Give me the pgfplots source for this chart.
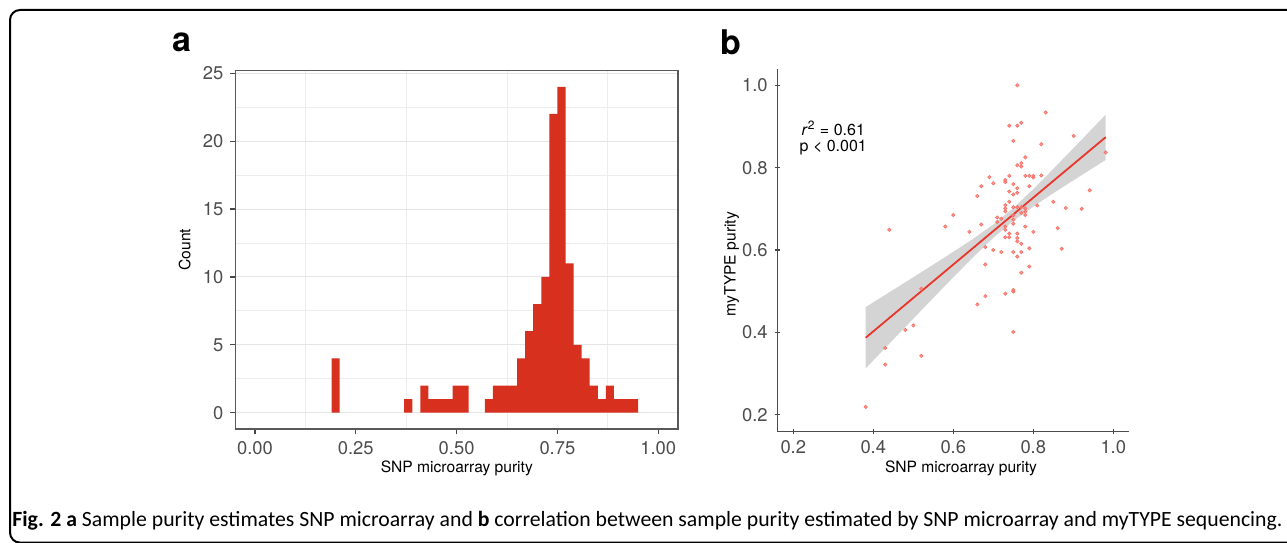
\documentclass[border=0pt]{standalone}
\usepackage{fontspec}
\setmainfont{TeX Gyre Heros}
\newfontfamily\capfont{Carlito}
\usepackage{pgfplots}
\pgfplotsset{compat=1.18}
\definecolor{histred}{HTML}{D7301F}
\definecolor{ptred}{HTML}{F8766D}
\definecolor{fitred}{HTML}{E8362B}
\definecolor{ticktext}{HTML}{4D4D4D}

\pgfplotsset{
  purity/.style={
    scale only axis,
    tick align=outside, tick pos=left,
    major tick length=2.6pt,
    tick style={black!72, line width=0.6pt},
    ticklabel style={font=\fontsize{9.2}{10}\selectfont, text=ticktext},
    label style={font=\fontsize{7.8}{9}\selectfont, text=black},
    /pgf/number format/assume math mode=true,
  }
}

\begin{document}
\begin{tikzpicture}
\useasboundingbox (0pt,0pt) rectangle (643.5pt,271pt);
\draw[line width=1pt, rounded corners=5pt] (5pt,-0.3pt) rectangle (700pt,266pt);

% panel a: histogram (bin width 0.02, bars at bin centres)
\begin{axis}[purity,
  at={(117.8pt,56.5pt)}, anchor=south west,
  width=221.2pt, height=179.25pt,
  xmin=-0.048, xmax=1.049, ymin=-1.2, ymax=25.2,
  xtick={0,0.25,0.5,0.75,1},
  x tick label style={/pgf/number format/.cd, fixed, fixed zerofill, precision=2, /tikz/.cd},
  ytick={0,5,10,15,20,25},
  minor xtick={0.125,0.375,0.625,0.875},
  minor ytick={2.5,7.5,12.5,17.5,22.5},
  minor tick length=0pt,
  xminorgrids, ymajorgrids, yminorgrids,
  major grid style={black!10, line width=0.5pt},
  minor grid style={black!7, line width=0.4pt},
  axis line style={black!65, line width=0.8pt},
  xlabel={SNP microarray purity}, ylabel={Count},
  xlabel style={at={(axis description cs:0.5,-0.109)}, anchor=center},
  ylabel style={at={(axis description cs:-0.115,0.5)}, anchor=center},
]
\addplot[ybar, bar width=0.0201, bar shift=0pt, fill=histred, draw=none] coordinates {
 (0.20,4) (0.38,1) (0.42,2) (0.44,1) (0.46,1) (0.48,1) (0.50,2) (0.52,2)
 (0.58,1) (0.60,2) (0.62,2) (0.64,2) (0.66,4) (0.68,6) (0.70,8) (0.72,10)
 (0.74,22) (0.76,24) (0.78,11) (0.80,5) (0.82,4) (0.84,2) (0.86,1) (0.88,2)
 (0.90,1) (0.92,1) (0.94,1)
};
\end{axis}

% panel b: scatter with fit
\begin{axis}[purity,
  at={(388.65pt,55.4pt)}, anchor=south west,
  width=176pt, height=181.2pt,
  xmin=0.16, xmax=1.04, ymin=0.16, ymax=1.04,
  axis x line=bottom, axis y line=left,
  axis line style={-, black!70, line width=0.6pt},
  xtick={0.2,0.4,0.6,0.8,1.0}, ytick={0.2,0.4,0.6,0.8,1.0},
  x tick label style={/pgf/number format/.cd, fixed, fixed zerofill, precision=1, /tikz/.cd},
  y tick label style={/pgf/number format/.cd, fixed, fixed zerofill, precision=1, /tikz/.cd},
  xlabel={SNP microarray purity}, ylabel={myTYPE purity},
  xlabel style={at={(axis description cs:0.522,-0.102)}, anchor=center},
  ylabel style={at={(axis description cs:-0.1295,0.461)}, anchor=center},
]
\addplot[fill=black!17, draw=none] coordinates {
 (0.381,0.4615) (0.45,0.5034) (0.5,0.5338) (0.55,0.5645) (0.6,0.5955) (0.65,0.6275)
 (0.7,0.6619) (0.75,0.7019) (0.8,0.7480) (0.85,0.7969) (0.9,0.8468) (0.95,0.8973)
 (0.981,0.9286) (0.981,0.8186) (0.95,0.7997) (0.9,0.7690) (0.85,0.7379) (0.8,0.7056)
 (0.75,0.6707) (0.7,0.6295) (0.65,0.5829) (0.6,0.5337) (0.55,0.4837) (0.5,0.4332)
 (0.45,0.3826) (0.381,0.3125)
};
\addplot[only marks, mark=*, color=ptred, mark size=0.8pt,
  mark options={fill=ptred, draw=none, fill opacity=0.65}] coordinates {
 (0.760,1.000) (0.831,0.934) (0.740,0.902) (0.760,0.902) (0.770,0.909) (0.901,0.877)
 (0.750,0.865) (0.820,0.857) (0.981,0.837) (0.780,0.825) (0.770,0.811) (0.770,0.803)
 (0.760,0.806) (0.690,0.777) (0.740,0.780) (0.780,0.780) (0.790,0.780) (0.800,0.780)
 (0.800,0.776) (0.820,0.781) (0.730,0.770) (0.730,0.765) (0.700,0.762) (0.670,0.755)
 (0.750,0.760) (0.790,0.755) (0.760,0.750) (0.760,0.739) (0.750,0.735) (0.740,0.742)
 (0.941,0.745) (0.660,0.731) (0.740,0.717) (0.850,0.717) (0.810,0.708) (0.730,0.709)
 (0.730,0.701) (0.730,0.694) (0.750,0.704) (0.760,0.704) (0.770,0.704) (0.780,0.701)
 (0.780,0.693) (0.780,0.685) (0.881,0.702) (0.921,0.700) (0.600,0.685) (0.710,0.679)
 (0.710,0.668) (0.750,0.684) (0.750,0.674) (0.750,0.664) (0.670,0.662) (0.580,0.657)
 (0.861,0.653) (0.640,0.644) (0.730,0.657) (0.730,0.649) (0.800,0.644) (0.440,0.649)
 (0.740,0.640) (0.740,0.631) (0.730,0.631) (0.760,0.640) (0.760,0.629) (0.760,0.621)
 (0.770,0.615) (0.680,0.607) (0.790,0.604) (0.871,0.603) (0.700,0.600) (0.720,0.595)
 (0.750,0.595) (0.770,0.595) (0.760,0.584) (0.680,0.565) (0.790,0.560) (0.770,0.545)
 (0.750,0.503) (0.750,0.499) (0.520,0.506) (0.730,0.494) (0.680,0.488) (0.660,0.468)
 (0.500,0.417) (0.480,0.406) (0.750,0.401) (0.430,0.362) (0.520,0.343) (0.430,0.322)
 (0.381,0.219) (0.780,0.657) (0.720,0.676) (0.770,0.690)
};
\addplot[fitred, line width=0.9pt] coordinates {(0.381,0.387) (0.981,0.874)};
\node[font=\fontsize{8}{8.2}\selectfont, align=center] at (axis cs:0.30,0.872)
  {\textit{r}\textsuperscript{2} = 0.61\\p < 0.001};
\end{axis}

% panel letters
\node[font=\fontsize{17}{17}\selectfont\bfseries] at (91pt,249.75pt) {a};
\node[font=\fontsize{17}{17}\selectfont\bfseries] at (365.5pt,249.75pt) {b};

% caption
\node[anchor=west, inner sep=0pt] at (6pt,10.5pt) {\resizebox{635pt}{!}{\capfont\fontsize{10}{12}\selectfont\textbf{Fig. 2 a} Sample purity estimates SNP microarray and \textbf{b} correlation between sample purity estimated by SNP microarray and myTYPE sequencing.}};
\end{tikzpicture}
\end{document}
